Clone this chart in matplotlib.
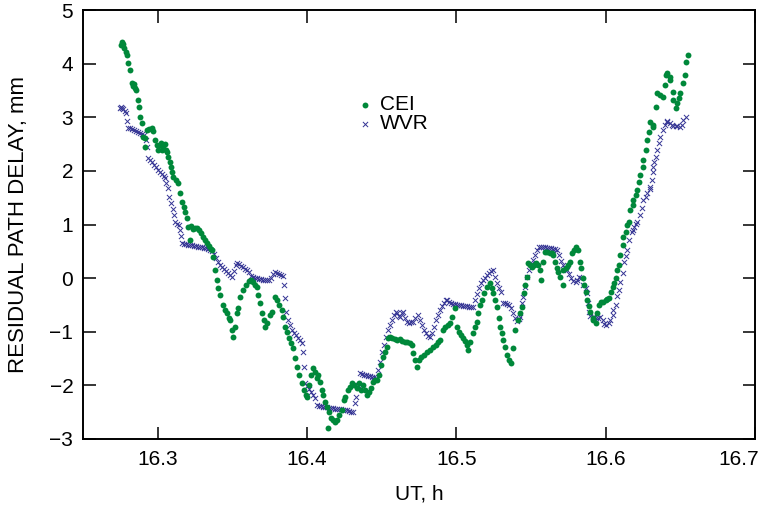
import matplotlib
matplotlib.use("Agg")
import matplotlib.pyplot as plt
import matplotlib.transforms as mtransforms

plt.rcParams['font.family'] = ['Liberation Sans', 'DejaVu Sans']

# CEI residual path delay (UT hours, mm)
cei_t = [16.2755, 16.2761, 16.2768, 16.2775, 16.2788, 16.2795, 16.2802, 16.2815, 16.2828, 16.2835,
         16.2842, 16.2849, 16.2855, 16.2869, 16.2875, 16.2882, 16.2895, 16.2902, 16.2916, 16.2916,
         16.2929, 16.2942, 16.2962, 16.2969, 16.2983, 16.2996, 16.3003, 16.3016, 16.3023, 16.3029,
         16.3036, 16.3050, 16.3056, 16.3063, 16.3070, 16.3083, 16.3090, 16.3097, 16.3103, 16.3123,
         16.3137, 16.3150, 16.3164, 16.3177, 16.3184, 16.3197, 16.3204, 16.3217, 16.3224, 16.3237,
         16.3251, 16.3264, 16.3277, 16.3291, 16.3304, 16.3318, 16.3331, 16.3345, 16.3358, 16.3365,
         16.3371, 16.3385, 16.3398, 16.3405, 16.3418, 16.3438, 16.3452, 16.3465, 16.3479, 16.3485,
         16.3499, 16.3505, 16.3519, 16.3532, 16.3539, 16.3552, 16.3572, 16.3592, 16.3613, 16.3626,
         16.3639, 16.3653, 16.3666, 16.3673, 16.3686, 16.3700, 16.3713, 16.3720, 16.3733, 16.3753,
         16.3767, 16.3787, 16.3800, 16.3814, 16.3834, 16.3840, 16.3854, 16.3867, 16.3881, 16.3894,
         16.3908, 16.3921, 16.3934, 16.3948, 16.3968, 16.3981, 16.3995, 16.4001, 16.4015, 16.4028,
         16.4042, 16.4055, 16.4068, 16.4075, 16.4088, 16.4102, 16.4109, 16.4122, 16.4135, 16.4142,
         16.4149, 16.4162, 16.4176, 16.4189, 16.4202, 16.4216, 16.4236, 16.4249, 16.4256, 16.4276,
         16.4290, 16.4303, 16.4316, 16.4336, 16.4350, 16.4363, 16.4377, 16.4390, 16.4403, 16.4417,
         16.4430, 16.4444, 16.4457, 16.4471, 16.4484, 16.4497, 16.4511, 16.4524, 16.4538, 16.4544,
         16.4558, 16.4571, 16.4591, 16.4605, 16.4625, 16.4638, 16.4658, 16.4672, 16.4692, 16.4705,
         16.4712, 16.4725, 16.4739, 16.4752, 16.4765, 16.4786, 16.4806, 16.4826, 16.4846, 16.4866,
         16.4879, 16.4893, 16.4913, 16.4926, 16.4946, 16.4960, 16.4973, 16.4993, 16.5007, 16.5020,
         16.5034, 16.5047, 16.5060, 16.5074, 16.5080, 16.5094, 16.5114, 16.5127, 16.5141, 16.5147,
         16.5161, 16.5174, 16.5188, 16.5208, 16.5228, 16.5241, 16.5248, 16.5261, 16.5275, 16.5288,
         16.5295, 16.5308, 16.5315, 16.5328, 16.5342, 16.5355, 16.5369, 16.5382, 16.5395, 16.5416,
         16.5429, 16.5442, 16.5456, 16.5462, 16.5476, 16.5483, 16.5496, 16.5509, 16.5523, 16.5536,
         16.5550, 16.5563, 16.5570, 16.5583, 16.5597, 16.5610, 16.5630, 16.5643, 16.5650, 16.5664,
         16.5677, 16.5684, 16.5697, 16.5711, 16.5717, 16.5737, 16.5751, 16.5764, 16.5777, 16.5791,
         16.5804, 16.5818, 16.5831, 16.5838, 16.5845, 16.5858, 16.5865, 16.5878, 16.5891, 16.5898,
         16.5912, 16.5918, 16.5932, 16.5945, 16.5958, 16.5972, 16.5985, 16.5999, 16.6012, 16.6025,
         16.6039, 16.6046, 16.6059, 16.6072, 16.6079, 16.6086, 16.6099, 16.6113, 16.6119, 16.6133,
         16.6146, 16.6153, 16.6166, 16.6180, 16.6186, 16.6200, 16.6213, 16.6220, 16.6233, 16.6247,
         16.6253, 16.6267, 16.6280, 16.6287, 16.6300, 16.6314, 16.6320, 16.6334, 16.6347, 16.6361,
         16.6381, 16.6394, 16.6401, 16.6414, 16.6428, 16.6434, 16.6448, 16.6454, 16.6468, 16.6481,
         16.6488, 16.6501, 16.6515, 16.6528, 16.6535, 16.6548]
cei_v = [4.35, 4.40, 4.37, 4.29, 4.22, 4.16, 4.01, 3.88, 3.64, 3.58,
         3.62, 3.54, 3.51, 3.32, 3.19, 3.00, 2.89, 2.63, 2.61, 2.44,
         2.76, 2.78, 2.80, 2.74, 2.57, 2.48, 2.39, 2.48, 2.52, 2.39,
         2.43, 2.50, 2.39, 2.35, 2.26, 2.16, 2.07, 1.98, 1.88, 1.83,
         1.77, 1.59, 1.42, 1.32, 1.23, 1.12, 0.95, 0.71, 0.97, 0.91,
         0.93, 0.93, 0.90, 0.84, 0.76, 0.71, 0.65, 0.60, 0.54, 0.52,
         0.39, 0.15, -0.04, -0.19, -0.32, -0.50, -0.60, -0.65, -0.75, -0.78,
         -0.97, -1.10, -0.91, -0.65, -0.56, -0.35, -0.22, -0.13, -0.06, -0.04,
         -0.07, -0.13, -0.17, -0.32, -0.47, -0.65, -0.78, -0.91, -0.84, -0.69,
         -0.63, -0.35, -0.41, -0.50, -0.60, -0.73, -0.91, -1.01, -1.12, -1.21,
         -1.31, -1.49, -1.66, -1.81, -1.96, -2.09, -2.18, -2.22, -2.00, -1.81,
         -1.68, -1.75, -1.87, -1.81, -1.94, -2.09, -2.18, -2.31, -2.41, -2.80,
         -2.50, -2.61, -2.65, -2.69, -2.65, -2.56, -2.46, -2.28, -2.22, -2.09,
         -2.03, -1.96, -2.00, -2.05, -1.96, -2.09, -2.00, -2.09, -2.18, -2.13,
         -2.05, -1.94, -1.90, -1.90, -1.81, -1.62, -1.47, -1.38, -1.29, -1.12,
         -1.10, -1.12, -1.14, -1.16, -1.14, -1.18, -1.19, -1.19, -1.21, -1.25,
         -1.40, -1.53, -1.66, -1.53, -1.47, -1.44, -1.38, -1.34, -1.29, -1.25,
         -1.19, -1.16, -0.97, -0.91, -0.88, -0.84, -0.73, -0.56, -0.91, -1.01,
         -1.06, -1.12, -1.18, -1.25, -1.34, -1.19, -1.03, -0.91, -0.82, -0.65,
         -0.50, -0.41, -0.28, -0.17, -0.09, -0.19, -0.28, -0.41, -0.54, -0.75,
         -0.91, -1.03, -1.16, -1.29, -1.44, -1.53, -1.59, -1.31, -0.97, -0.78,
         -0.65, -0.54, -0.28, -0.13, 0.02, 0.28, 0.24, 0.21, 0.24, 0.28,
         0.24, 0.15, -0.04, 0.30, 0.49, 0.49, 0.47, 0.47, 0.43, 0.30,
         0.19, 0.11, 0.02, -0.13, 0.15, 0.19, 0.24, 0.30, 0.47, 0.52,
         0.58, 0.52, 0.30, 0.19, 0.00, -0.13, -0.26, -0.41, -0.52, -0.63,
         -0.75, -0.78, -0.84, -0.65, -0.50, -0.45, -0.45, -0.41, -0.39, -0.37,
         -0.26, -0.17, -0.09, 0.00, 0.15, 0.24, 0.43, 0.62, 0.76, 0.86,
         0.99, 1.04, 1.27, 1.36, 1.46, 1.55, 1.64, 1.79, 1.92, 2.07,
         2.20, 2.39, 2.57, 2.72, 2.91, 2.85, 2.82, 3.19, 3.45, 3.41,
         3.38, 3.60, 3.79, 3.82, 3.75, 3.69, 3.47, 3.32, 3.17, 3.26,
         3.36, 3.45, 3.64, 3.79, 4.03, 4.16]

# WVR residual path delay (UT hours, mm)
wvr_t = [16.2748, 16.2755, 16.2761, 16.2768, 16.2782, 16.2788, 16.2795, 16.2802, 16.2815, 16.2828,
         16.2842, 16.2855, 16.2869, 16.2882, 16.2895, 16.2909, 16.2922, 16.2929, 16.2936, 16.2949,
         16.2962, 16.2976, 16.2989, 16.3003, 16.3016, 16.3029, 16.3043, 16.3050, 16.3056, 16.3070,
         16.3076, 16.3090, 16.3103, 16.3110, 16.3117, 16.3130, 16.3143, 16.3150, 16.3157, 16.3164,
         16.3177, 16.3190, 16.3204, 16.3217, 16.3231, 16.3244, 16.3257, 16.3271, 16.3284, 16.3298,
         16.3311, 16.3324, 16.3338, 16.3351, 16.3365, 16.3378, 16.3391, 16.3405, 16.3418, 16.3432,
         16.3445, 16.3458, 16.3472, 16.3485, 16.3499, 16.3512, 16.3525, 16.3532, 16.3546, 16.3559,
         16.3572, 16.3586, 16.3599, 16.3613, 16.3626, 16.3639, 16.3653, 16.3666, 16.3680, 16.3693,
         16.3706, 16.3720, 16.3733, 16.3747, 16.3760, 16.3773, 16.3787, 16.3800, 16.3814, 16.3827,
         16.3840, 16.3847, 16.3854, 16.3861, 16.3874, 16.3887, 16.3901, 16.3914, 16.3928, 16.3941,
         16.3954, 16.3968, 16.3975, 16.3981, 16.3988, 16.4001, 16.4015, 16.4028, 16.4042, 16.4055,
         16.4068, 16.4082, 16.4095, 16.4109, 16.4122, 16.4135, 16.4149, 16.4162, 16.4176, 16.4189,
         16.4202, 16.4216, 16.4229, 16.4243, 16.4256, 16.4269, 16.4283, 16.4296, 16.4310, 16.4323,
         16.4330, 16.4343, 16.4357, 16.4370, 16.4383, 16.4397, 16.4410, 16.4424, 16.4437, 16.4450,
         16.4464, 16.4477, 16.4491, 16.4504, 16.4517, 16.4531, 16.4544, 16.4558, 16.4571, 16.4584,
         16.4598, 16.4605, 16.4618, 16.4625, 16.4638, 16.4645, 16.4658, 16.4672, 16.4685, 16.4698,
         16.4712, 16.4725, 16.4745, 16.4759, 16.4772, 16.4786, 16.4799, 16.4812, 16.4826, 16.4839,
         16.4853, 16.4866, 16.4879, 16.4893, 16.4906, 16.4920, 16.4933, 16.4940, 16.4953, 16.4966,
         16.4980, 16.4993, 16.5007, 16.5020, 16.5034, 16.5047, 16.5060, 16.5074, 16.5087, 16.5101,
         16.5114, 16.5127, 16.5141, 16.5154, 16.5168, 16.5181, 16.5194, 16.5208, 16.5221, 16.5235,
         16.5248, 16.5261, 16.5275, 16.5288, 16.5302, 16.5315, 16.5328, 16.5342, 16.5355, 16.5369,
         16.5382, 16.5395, 16.5409, 16.5422, 16.5429, 16.5442, 16.5449, 16.5462, 16.5476, 16.5489,
         16.5503, 16.5516, 16.5529, 16.5543, 16.5556, 16.5570, 16.5583, 16.5597, 16.5610, 16.5623,
         16.5637, 16.5650, 16.5664, 16.5677, 16.5690, 16.5704, 16.5717, 16.5731, 16.5744, 16.5757,
         16.5771, 16.5784, 16.5798, 16.5811, 16.5824, 16.5838, 16.5851, 16.5865, 16.5878, 16.5885,
         16.5891, 16.5898, 16.5912, 16.5925, 16.5938, 16.5952, 16.5965, 16.5979, 16.5992, 16.6005,
         16.6019, 16.6032, 16.6046, 16.6052, 16.6066, 16.6079, 16.6086, 16.6099, 16.6113, 16.6126,
         16.6133, 16.6146, 16.6159, 16.6173, 16.6180, 16.6193, 16.6206, 16.6213, 16.6227, 16.6240,
         16.6253, 16.6267, 16.6280, 16.6294, 16.6300, 16.6307, 16.6314, 16.6320, 16.6327, 16.6334,
         16.6347, 16.6354, 16.6367, 16.6381, 16.6394, 16.6408, 16.6414, 16.6428, 16.6441, 16.6454,
         16.6468, 16.6481, 16.6495, 16.6508, 16.6521, 16.6535]
wvr_v = [3.17, 3.19, 3.17, 3.15, 3.12, 3.08, 2.93, 2.80, 2.80, 2.78,
         2.76, 2.74, 2.72, 2.71, 2.69, 2.67, 2.57, 2.44, 2.24, 2.20,
         2.16, 2.11, 2.07, 2.01, 1.98, 1.94, 1.90, 1.87, 1.77, 1.68,
         1.51, 1.40, 1.29, 1.18, 1.04, 1.01, 0.99, 0.90, 0.78, 0.65,
         0.63, 0.63, 0.62, 0.62, 0.62, 0.60, 0.60, 0.58, 0.58, 0.58,
         0.56, 0.56, 0.54, 0.52, 0.50, 0.45, 0.37, 0.30, 0.24, 0.21,
         0.17, 0.13, 0.09, 0.06, 0.02, 0.13, 0.24, 0.28, 0.26, 0.22,
         0.21, 0.17, 0.15, 0.11, 0.04, 0.02, 0.00, 0.00, -0.02, -0.02,
         -0.04, -0.04, -0.04, -0.04, 0.00, 0.07, 0.11, 0.09, 0.07, 0.06,
         0.04, -0.13, -0.37, -0.63, -0.78, -0.88, -0.97, -1.03, -1.06, -1.12,
         -1.16, -1.21, -1.38, -1.66, -1.96, -2.01, -2.07, -2.13, -2.18, -2.24,
         -2.37, -2.39, -2.39, -2.41, -2.41, -2.41, -2.43, -2.43, -2.43, -2.44,
         -2.44, -2.44, -2.44, -2.46, -2.46, -2.46, -2.48, -2.50, -2.50, -2.33,
         -2.22, -2.00, -1.77, -1.79, -1.81, -1.81, -1.83, -1.83, -1.85, -1.85,
         -1.87, -1.72, -1.57, -1.38, -1.25, -1.10, -0.97, -0.88, -0.78, -0.69,
         -0.63, -0.65, -0.71, -0.73, -0.65, -0.63, -0.75, -0.82, -0.84, -0.82,
         -0.82, -0.75, -0.69, -0.78, -0.88, -0.97, -1.03, -1.08, -1.10, -1.03,
         -0.91, -0.78, -0.69, -0.60, -0.52, -0.47, -0.41, -0.41, -0.45, -0.47,
         -0.49, -0.49, -0.50, -0.50, -0.50, -0.52, -0.52, -0.52, -0.54, -0.54,
         -0.54, -0.41, -0.30, -0.19, -0.09, -0.04, 0.00, 0.06, 0.09, 0.13,
         0.15, 0.02, -0.09, -0.19, -0.26, -0.47, -0.47, -0.49, -0.50, -0.56,
         -0.65, -0.75, -0.80, -0.76, -0.73, -0.47, -0.35, -0.17, 0.02, 0.15,
         0.26, 0.34, 0.43, 0.52, 0.58, 0.58, 0.58, 0.58, 0.56, 0.56,
         0.56, 0.54, 0.54, 0.52, 0.43, 0.32, 0.24, 0.19, 0.15, 0.07,
         0.00, -0.06, -0.07, -0.04, 0.02, 0.00, -0.13, -0.19, -0.28, -0.47,
         -0.63, -0.71, -0.73, -0.73, -0.75, -0.75, -0.73, -0.78, -0.86, -0.88,
         -0.84, -0.78, -0.69, -0.60, -0.50, -0.34, -0.22, -0.07, 0.09, 0.30,
         0.41, 0.52, 0.71, 0.86, 0.90, 0.95, 1.01, 1.04, 1.18, 1.31,
         1.46, 1.51, 1.59, 1.66, 1.70, 1.83, 1.98, 2.07, 2.16, 2.26,
         2.39, 2.52, 2.63, 2.76, 2.85, 2.91, 2.93, 2.89, 2.85, 2.84,
         2.84, 2.84, 2.82, 2.85, 2.95, 3.00]

x_ticks = [16.3, 16.4, 16.5, 16.6, 16.7]
y_ticks = [-3, -2, -1, 0, 1, 2, 3, 4, 5]

fig = plt.figure(figsize=(7.61, 5.08), dpi=100)
ax = fig.add_axes([83 / 761, 69 / 508, 672 / 761, 429 / 508])

ax.scatter(wvr_t, wvr_v, marker='x', s=14, linewidths=0.7, color='#343494', label='WVR', zorder=2)
ax.scatter(cei_t, cei_v, marker='o', s=18, linewidths=0, color='#00883a', label='CEI', zorder=3)

ax.set_xlim(16.25, 16.7)
ax.set_ylim(-3, 5)
ax.set_xticks(x_ticks)
ax.set_yticks(y_ticks)

ax.tick_params(direction='in', length=9, width=1.1, labelsize=15, top=True, right=True)
ax.tick_params(axis='x', pad=8)
ax.tick_params(axis='y', pad=7)
for s in ax.spines.values():
    s.set_linewidth(1.4)

# last x label sits left of its tick so it stays inside the figure
lab = ax.get_xticklabels()[-1]
lab.set_horizontalalignment('right')
lab.set_transform(lab.get_transform() + mtransforms.ScaledTranslation(3 / 72, 0, fig.dpi_scale_trans))

ax.set_xlabel('UT, h', fontsize=15)
ax.set_ylabel('RESIDUAL PATH DELAY, mm', fontsize=16)
ax.xaxis.set_label_coords(0.5, -0.105)
ax.yaxis.set_label_coords(-0.08, 0.5)

h, l = ax.get_legend_handles_labels()
ax.legend(h[::-1], l[::-1], loc='upper left', bbox_to_anchor=(0.389, 0.826), frameon=False,
          fontsize=15, handletextpad=0.2, labelspacing=0.0, borderpad=0, markerscale=1.0,
          handlelength=1.0)

fig.savefig('out.png', dpi=100)
